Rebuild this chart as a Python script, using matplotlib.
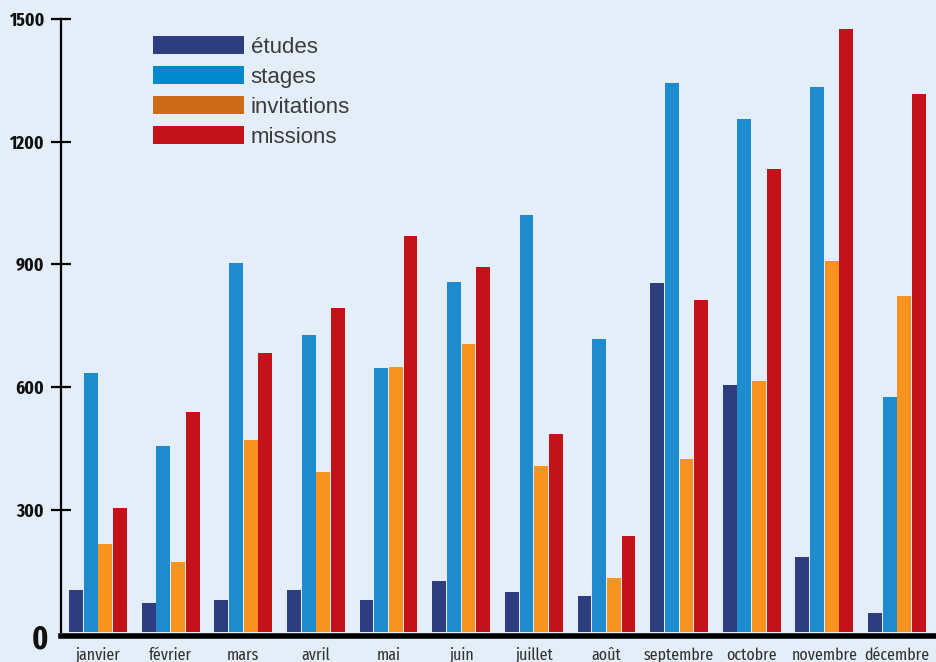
import matplotlib
matplotlib.use("Agg")
import matplotlib.pyplot as plt
import matplotlib.transforms as mtransforms
from matplotlib.patches import Patch
import numpy as np

# monthly counts
mois = ["janvier", "février", "mars", "avril", "mai", "juin", "juillet",
        "août", "septembre", "octobre", "novembre", "décembre"]
etudes = [103, 71, 78, 103, 78, 125, 98, 88, 854, 604, 185, 47]
stages = [634, 457, 904, 727, 646, 857, 1021, 717, 1343, 1257, 1335, 575]
invitations = [217, 173, 470, 393, 648, 705, 408, 132, 425, 616, 909, 823]
missions = [305, 538, 683, 793, 970, 893, 486, 235, 812, 1134, 1477, 1318]

series_names = ["études", "stages", "invitations", "missions"]
bar_colors = ["#2E3D7F", "#1E8BCD", "#F7931E", "#C4121A"]
legend_colors = ["#2C3E7F", "#0088CE", "#CC6C1B", "#C4121A"]
yticks = [0, 300, 600, 900, 1200, 1500]

bg = "#E3EEF8"
narrow = ["Fira Sans Extra Condensed", "Roboto Condensed", "DejaVu Sans"]

fig = plt.figure(figsize=(9.36, 6.62), dpi=100, facecolor=bg)
ax = fig.add_axes([61 / 936, 1 - 632.3 / 662, 1 - 61 / 936, (632.3 - 19.3) / 662])
ax.set_facecolor(bg)

x = np.arange(len(mois))
pitch = 0.202
width = 0.19
for i, (vals, col) in enumerate(zip([etudes, stages, invitations, missions], bar_colors)):
    ax.bar(x + (i - 1.5) * pitch, vals, width=width, color=col, linewidth=0, zorder=2)

ax.set_xlim(-0.51, 11.537)
ax.set_ylim(0, 1500)

for s in ["top", "right"]:
    ax.spines[s].set_visible(False)
ax.spines["left"].set_linewidth(1.6)
ax.spines["left"].set_color("black")
ax.spines["bottom"].set_linewidth(4)
ax.spines["bottom"].set_color("black")
ax.spines["bottom"].set_position(("outward", 2.5))
ax.spines["bottom"].set_zorder(3)

ax.set_yticks(yticks)
ax.set_yticklabels([str(v) for v in yticks], family=narrow, fontweight="bold",
                   fontsize=13.5, color="#111111")
ax.tick_params(axis="y", direction="inout", length=14.4, width=1.6, pad=5)
# the zero label is drawn much bigger in the original
lab0 = ax.get_yticklabels()[0]
lab0.set_fontsize(23)
lab0.set_transform(lab0.get_transform() +
                   mtransforms.ScaledTranslation(0.04, -0.035, fig.dpi_scale_trans))
ax.yaxis.get_major_ticks()[0].tick1line.set_visible(False)

ax.set_xticks(x)
ax.set_xticklabels(mois, family=narrow, fontsize=12.5, color="#333333")
ax.tick_params(axis="x", length=0, pad=8)

handles = [Patch(facecolor=c, edgecolor="none") for c in legend_colors]
ax.legend(handles, series_names, loc="upper left",
          bbox_to_anchor=(153 / 936, 1 - 36 / 662), bbox_transform=fig.transFigure,
          frameon=False, borderpad=0, borderaxespad=0,
          handlelength=4.1, handleheight=0.85, handletextpad=0.3, labelspacing=0.38,
          prop={"family": ["Liberation Sans", "DejaVu Sans"], "size": 16},
          labelcolor="#3C3C3C")

fig.savefig("out.png", dpi=100, facecolor=bg)
